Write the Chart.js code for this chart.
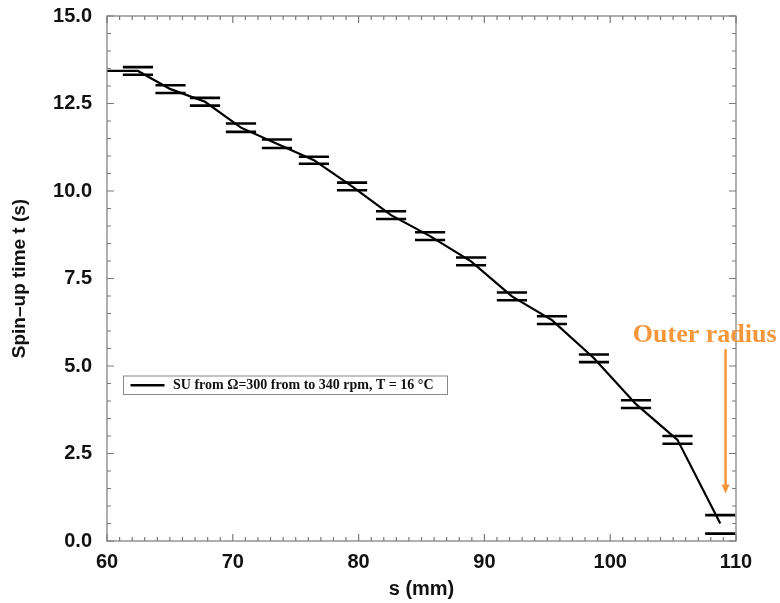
<!DOCTYPE html>
<html><head><meta charset="utf-8">
<script src="https://cdn.jsdelivr.net/npm/chart.js@4"></script>
<style>html,body{margin:0;padding:0;background:#fff;}</style>
</head><body>
<canvas id="c" width="780" height="603" style="display:block;width:780px;height:603px"></canvas>
<script>
// ---- data ----
const seriesLabel = 'SU from \u03A9=300 from to 340 rpm, T = 16 \u00B0C';
const sValues = [60, 62.46, 65.05, 67.79, 70.65, 73.51, 76.45, 79.48, 82.58, 85.68, 88.94, 92.19, 95.37, 98.71, 102.05, 105.35, 108.75];
const tValues = [13.43, 13.43, 12.91, 12.55, 11.81, 11.35, 10.88, 10.13, 9.31, 8.71, 7.99, 6.99, 6.31, 5.22, 3.91, 2.89, 0.50];
const errUp   = [null, 0.11, 0.11, 0.11, 0.12, 0.12, 0.10, 0.11, 0.11, 0.11, 0.11, 0.11, 0.11, 0.11, 0.11, 0.11, 0.24];
const errDown = [null, 0.11, 0.11, 0.11, 0.12, 0.12, 0.10, 0.11, 0.11, 0.11, 0.11, 0.11, 0.11, 0.11, 0.11, 0.11, 0.29];
const xTicks = [60, 70, 80, 90, 100, 110];
const yTicks = [0, 2.5, 5, 7.5, 10, 12.5, 15];
const xTitle = 's (mm)';
const yTitle = 'Spin\u2013up time t (s)';
const annotationText = 'Outer radius';
const annotationTextAt = {x: 101.8, y: 5.69};
const arrowFrom = {x: 109.17, y: 5.48};
const arrowTo = {x: 109.17, y: 1.36};

// ---- style ----
const ORANGE = '#F5963A';
const AXIS_GRAY = '#7a7a7a';
const BAR_HALF_MM = 1.2;

const framePlugin = {
  id: 'frame',
  afterDraw(chart) {
    const {ctx, chartArea: a, scales: {x, y}} = chart;
    ctx.save();
    ctx.strokeStyle = AXIS_GRAY;
    ctx.lineWidth = 1.2;
    ctx.strokeRect(a.left, a.top, a.right - a.left, a.bottom - a.top);
    ctx.beginPath();
    for (let v = 60; v <= 110.001; v += 1) {
      const px = x.getPixelForValue(v);
      const major = Math.abs(v % 10) < 1e-6;
      const len = major ? 7 : 4;
      ctx.moveTo(px, a.bottom); ctx.lineTo(px, a.bottom - len);
      ctx.moveTo(px, a.top); ctx.lineTo(px, a.top + len);
    }
    for (let i = 0; i <= 30; i++) {
      const v = i * 0.5;
      const py = y.getPixelForValue(v);
      const major = i % 5 === 0;
      const len = major ? 7 : 4;
      ctx.moveTo(a.left, py); ctx.lineTo(a.left + len, py);
      ctx.moveTo(a.right, py); ctx.lineTo(a.right - len, py);
    }
    ctx.stroke();
    ctx.restore();
  }
};

const errorBarPlugin = {
  id: 'errbars',
  afterDatasetsDraw(chart) {
    const {ctx, scales: {x, y}} = chart;
    ctx.save();
    ctx.strokeStyle = '#000';
    ctx.lineWidth = 2.6;
    ctx.beginPath();
    sValues.forEach((s, i) => {
      if (errUp[i] == null) return;
      const x1 = x.getPixelForValue(s - BAR_HALF_MM), x2 = x.getPixelForValue(s + BAR_HALF_MM);
      const yu = y.getPixelForValue(tValues[i] + errUp[i]);
      const yd = y.getPixelForValue(tValues[i] - errDown[i]);
      ctx.moveTo(x1, yu); ctx.lineTo(x2, yu);
      ctx.moveTo(x1, yd); ctx.lineTo(x2, yd);
    });
    ctx.stroke();
    ctx.restore();
  }
};

const legendPlugin = {
  id: 'insideLegend',
  afterDraw(chart) {
    const {ctx, chartArea: a} = chart;
    const left = a.left + 16.5, top = a.top + 360, h = 18.5;
    ctx.save();
    ctx.font = 'bold 14px "Liberation Serif", "Times New Roman", serif';
    const label = chart.data.datasets[0].label;
    const tx = left + 49.5;
    const tw = ctx.measureText(label).width;
    const w = tx + tw + 14 - left;
    ctx.fillStyle = '#fff';
    ctx.fillRect(left, top, w, h);
    ctx.strokeStyle = '#888';
    ctx.lineWidth = 1;
    ctx.strokeRect(left, top, w, h);
    ctx.strokeStyle = '#000';
    ctx.lineWidth = 2.4;
    ctx.beginPath();
    ctx.moveTo(left + 7, top + h / 2); ctx.lineTo(left + 41, top + h / 2);
    ctx.stroke();
    ctx.fillStyle = '#111';
    ctx.textBaseline = 'middle';
    ctx.fillText(label, tx, top + h / 2 + 0.5);
    ctx.restore();
  }
};

const annotationPlugin = {
  id: 'outerRadius',
  afterDraw(chart) {
    const {ctx, scales: {x, y}} = chart;
    ctx.save();
    ctx.fillStyle = ORANGE;
    ctx.font = 'bold 26px "Liberation Serif", "Times New Roman", serif';
    ctx.textBaseline = 'alphabetic';
    ctx.fillText(annotationText, x.getPixelForValue(annotationTextAt.x), y.getPixelForValue(annotationTextAt.y));
    const ax = x.getPixelForValue(arrowFrom.x);
    const y1 = y.getPixelForValue(arrowFrom.y), y2 = y.getPixelForValue(arrowTo.y);
    ctx.strokeStyle = ORANGE;
    ctx.lineWidth = 2.5;
    ctx.beginPath();
    ctx.moveTo(ax, y1); ctx.lineTo(ax, y2 - 7);
    ctx.stroke();
    ctx.beginPath();
    ctx.moveTo(ax - 4, y2 - 9); ctx.lineTo(ax + 4, y2 - 9); ctx.lineTo(ax, y2);
    ctx.closePath();
    ctx.fill();
    ctx.restore();
  }
};

const tickFont = {family: '"Liberation Sans", Arial, sans-serif', size: 20, weight: 'bold'};
const titleFontY = {family: '"Liberation Sans", Arial, sans-serif', size: 19, weight: 'bold'};
const titleFontX = {family: '"Liberation Sans", Arial, sans-serif', size: 20, weight: 'bold'};

new Chart(document.getElementById('c'), {
  type: 'scatter',
  data: {
    datasets: [{
      label: seriesLabel,
      data: sValues.map((s, i) => ({x: s, y: tValues[i]})),
      showLine: true,
      borderColor: '#000',
      borderWidth: 2.2,
      pointRadius: 0,
      tension: 0
    }]
  },
  options: {
    responsive: false,
    animation: false,
    devicePixelRatio: 1,
    layout: {padding: {top: 16, right: 44, left: 0, bottom: 0}},
    plugins: {legend: {display: false}, tooltip: {enabled: false}},
    scales: {
      x: {
        type: 'linear', min: 60, max: 110,
        afterBuildTicks: s => { s.ticks = xTicks.map(v => ({value: v})); },
        grid: {display: false, drawTicks: false},
        border: {display: false},
        ticks: {color: '#111', font: tickFont, padding: 9, maxRotation: 0, autoSkip: false, callback: v => String(v)},
        title: {display: true, text: xTitle, color: '#111', font: titleFontX, padding: {top: 2, bottom: 2}},
        afterFit: s => { s.height = 62; s.paddingLeft = 0; s.paddingRight = 0; }
      },
      y: {
        type: 'linear', min: 0, max: 15,
        afterBuildTicks: s => { s.ticks = yTicks.map(v => ({value: v})); },
        grid: {display: false, drawTicks: false},
        border: {display: false},
        ticks: {color: '#111', font: tickFont, padding: 15, autoSkip: false, callback: v => Number(v).toFixed(1)},
        title: {display: true, text: yTitle, color: '#111', font: titleFontY, padding: {top: 8, bottom: 8}},
        afterFit: s => { s.width = 107; s.paddingTop = 0; s.paddingBottom = 0; }
      }
    }
  },
  plugins: [framePlugin, errorBarPlugin, legendPlugin, annotationPlugin]
});
</script>
</body></html>
